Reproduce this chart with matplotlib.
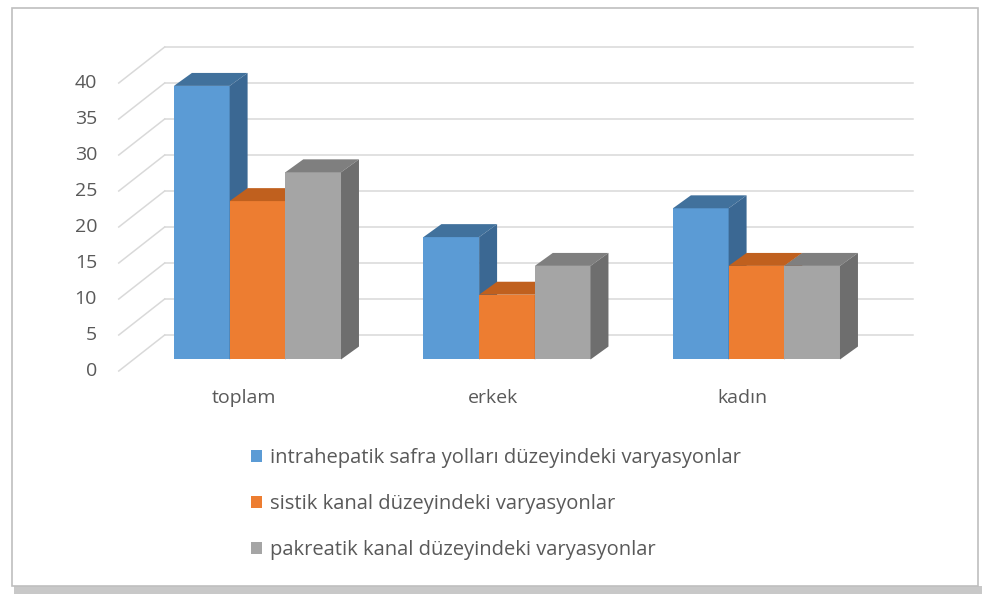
import matplotlib
matplotlib.use("Agg")
import matplotlib.pyplot as plt
from matplotlib.patches import Polygon, Rectangle, Patch

# ---- data ----
categories = ["toplam", "erkek", "kadın"]
series_names = [
    "intrahepatik safra yolları düzeyindeki varyasyonlar",
    "sistik kanal düzeyindeki varyasyonlar",
    "pakreatik kanal düzeyindeki varyasyonlar",
]
intrahepatik = [38, 17, 21]
sistik = [22, 9, 13]
pankreatik = [26, 13, 13]
series_values = [intrahepatik, sistik, pankreatik]
y_ticks = [0, 5, 10, 15, 20, 25, 30, 35, 40]

# ---- style ----
front_cols = ["#5B9BD5", "#ED7D31", "#A5A5A5"]
top_cols = ["#41719C", "#C0601E", "#7F7F7F"]
side_cols = ["#3B6893", "#B0561A", "#6E6E6E"]
text_col = "#595959"
grid_col = "#D9D9D9"
FONT = "Open Sans"
FS = 14

W, H = 986, 594
fig = plt.figure(figsize=(W / 100, H / 100), dpi=100)

# outer frame with shadow (behind everything)
fig.patches.append(Rectangle((14 / W, 1 - 594 / H), 968 / W, 8 / H, transform=fig.transFigure,
                             facecolor="#C8C8C8", edgecolor="none", zorder=-3))
fig.patches.append(Rectangle((12 / W, 1 - 586 / H), 966 / W, 578 / H, transform=fig.transFigure,
                             facecolor="white", edgecolor="#BFBFBF", lw=1.2, zorder=-2))

ax = fig.add_axes([0, 0, 1, 1])
ax.set_xlim(-0.976, 2.976)
ax.set_ylim(-30.97, 51.53)
ax.axis("off")

# oblique depth vectors (data units)
Dx, Dy = 0.184, 5.0          # full floor/wall depth
dx, dy = 0.072, 1.8          # bar depth
ox, oy = (Dx - dx) / 2, (Dy - dy) / 2   # bar front offset from floor front
bw = 0.2232
x_left, x_right = -0.5, 2.5

# gridlines: back wall horizontals + left wall diagonals
for t in y_ticks:
    ax.plot([x_left + Dx, x_right + Dx], [t + Dy, t + Dy], color=grid_col, lw=1.1, zorder=1)
    ax.plot([x_left, x_left + Dx], [t, t + Dy], color=grid_col, lw=1.1, zorder=1)
    ax.text(x_left - 0.087, t, str(t), ha="right", va="center", fontsize=FS,
            color=text_col, family=FONT)

# bars
for ci, cat in enumerate(categories):
    n = len(series_values)
    start = ci - n * bw / 2
    for si, vals in enumerate(series_values):
        v = vals[ci]
        x0 = start + si * bw + ox
        x1 = x0 + bw
        y0 = oy
        y1 = oy + v
        z = 3 + ci * 10 + si
        ax.add_patch(Polygon([(x0, y0), (x1, y0), (x1, y1), (x0, y1)], closed=True,
                             facecolor=front_cols[si], edgecolor="none", zorder=z))
        ax.add_patch(Polygon([(x0, y1), (x1, y1), (x1 + dx, y1 + dy), (x0 + dx, y1 + dy)],
                             closed=True, facecolor=top_cols[si], edgecolor="none", zorder=z))
        ax.add_patch(Polygon([(x1, y0), (x1 + dx, y0 + dy), (x1 + dx, y1 + dy), (x1, y1)],
                             closed=True, facecolor=side_cols[si], edgecolor="none", zorder=z))
    ax.text(ci - 0.0, -3.75, cat, ha="center", va="center", fontsize=FS,
            color=text_col, family=FONT)

# legend
handles = [Patch(facecolor=c, edgecolor="none") for c in front_cols]
leg = fig.legend(handles, series_names, loc="upper left",
                 bbox_to_anchor=(251 / W, 1 - 448 / H), frameon=False,
                 prop={"family": FONT, "size": 14.5}, labelcolor=text_col,
                 handlelength=0.53, handleheight=0.53, handletextpad=0.4,
                 labelspacing=1.3, borderaxespad=0, borderpad=0)

fig.savefig("out.png", dpi=100)
